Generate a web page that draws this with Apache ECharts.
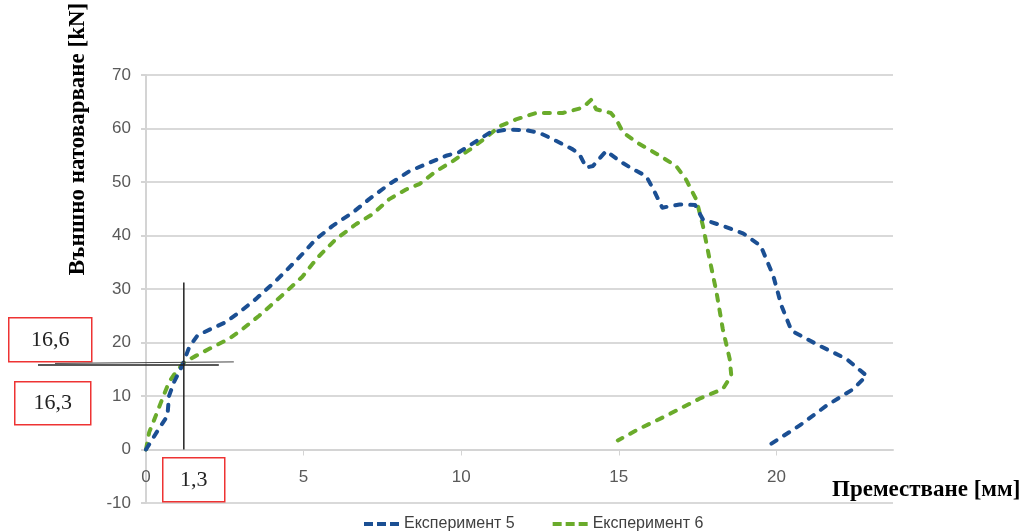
<!DOCTYPE html>
<html>
<head>
<meta charset="utf-8">
<script src="https://cdn.jsdelivr.net/npm/echarts@6/dist/echarts.min.js"></script>
<style>
html,body{margin:0;padding:0;background:#fff;}
#chart{width:1033px;height:532px;}
</style>
</head>
<body>
<div id="chart"></div>
<script>
// ---- data ----
const seriesNames = ['Експеримент 5', 'Експеримент 6'];
const exp5X = [0,0.41,0.68,0.73,0.89,1.15,1.37,1.63,2.05,2.53,2.95,3.48,4.12,4.86,5.39,5.92,6.56,7.08,7.72,8.35,8.99,9.52,9.94,10.47,10.9,11.43,12.06,12.48,12.91,13.54,13.75,13.97,14.18,14.6,15.03,15.45,15.87,16.1,16.38,16.93,17.42,17.67,18.3,18.94,19.5,19.9,20.16,20.48,21.27,22.23,22.86,22.44,21.59,20.74,19.74];
const exp5Y = [0,3.9,6.3,10,12.6,15.7,19.1,21.3,22.5,23.8,25.6,28.1,31.5,35.9,39.3,41.8,44.3,46.8,49.6,52,53.6,54.9,55.6,57.6,59.2,59.8,59.7,59.2,58,56.1,55.2,52.7,53,55.8,53.9,52.4,51.1,48.6,45.2,45.8,45.7,43.0,41.8,40.4,38.1,32.5,26.9,22.2,19.7,16.9,13.8,11.3,8.2,4.5,0.7];
const exp6X = [0,0.1,0.31,0.52,0.73,0.94,1.21,1.58,2.1,2.64,3.06,3.59,4.01,4.43,4.96,5.45,6.02,6.66,7.19,7.72,8.25,8.67,9.2,9.73,10.26,10.79,11.21,11.74,12.38,13.22,13.86,14.13,14.28,14.75,14.92,15.13,15.6,16.19,16.82,17.14,17.46,17.67,17.88,18.1,18.3,18.52,18.57,18.3,17.56,16.5,15.66,14.97];
const exp6Y = [0,3.2,6.3,9.5,12.6,14.4,16.3,17.5,19.1,20.7,22.5,25,27.2,29.4,32.3,35.9,39.3,42.1,44,46.8,48.6,49.6,52,53.9,56,58.3,60.4,61.7,62.9,62.9,63.9,65.4,63.6,62.9,61.7,59.3,57.3,55.3,53,50.4,46.7,41.8,35.6,29.4,22.5,16.9,13.8,11.3,9.5,6.3,3.9,1.7];
const xTicks = [0,5,10,15,20];
const yTicks = [-10,0,10,20,30,40,50,60,70];
const yTitle = 'Външно натоварване [kN]';
const xTitle = 'Преместване [мм]';
// annotation (crosshair) in data units, and its labels
const crossX = 1.2, crossY = 16.0, crossTop = 31.2;
const crossLabels = ['16,6', '16,3', '1,3'];

const pairs = (xs, ys) => xs.map((x, i) => [x, ys[i]]);
const colors = ['#1b4f93', '#6aab2b'];
const dashIcon = 'path://M0,0h9v4H0z M13,0h9v4h-9z M26,0h9v4h-9z';

const chart = echarts.init(document.getElementById('chart'));
const option = {
  animation: false,
  grid: {left: 146, right: 140, top: 75, bottom: 29, containLabel: false, outerBoundsMode: 'none'},
  xAxis: {
    type: 'value', min: 0, max: 23.7, interval: 5,
    axisLine: {show: true, onZero: false, lineStyle: {color: '#d4d4d4', width: 2}},
    axisTick: {show: true, length: 6, inside: false, customValues: xTicks, lineStyle: {color: '#d4d4d4'}},
    axisLabel: {customValues: xTicks, margin: 19, fontSize: 17, color: '#595959', fontFamily: 'Liberation Sans'},
    splitLine: {show: false}
  },
  yAxis: {
    type: 'value', min: yTicks[0], max: yTicks[yTicks.length - 1], interval: 10,
    axisLine: {show: true, onZero: false, lineStyle: {color: '#d4d4d4', width: 2}},
    axisTick: {show: true, length: 5, lineStyle: {color: '#d4d4d4', width: 2}},
    axisLabel: {margin: 15, fontSize: 17, color: '#595959', fontFamily: 'Liberation Sans'},
    splitLine: {show: true, lineStyle: {color: '#d9d9d9', width: 2}}
  },
  legend: {
    left: 359, top: 511, itemWidth: 35, itemHeight: 4, itemGap: 38,
    textStyle: {fontSize: 16, color: '#404040', fontFamily: 'Liberation Sans'},
    data: seriesNames.map(n => ({name: n, icon: dashIcon}))
  },
  series: [
    {name: seriesNames[0], type: 'line', data: pairs(exp5X, exp5Y), symbol: 'none', showSymbol: false, color: colors[0],
     lineStyle: {width: 4, type: [6, 9], cap: 'round', join: 'round', color: colors[0]}, z: 3},
    {name: seriesNames[1], type: 'line', data: pairs(exp6X, exp6Y), symbol: 'none', showSymbol: false, color: colors[1],
     lineStyle: {width: 4, type: [6, 9], cap: 'round', join: 'round', color: colors[1]}, z: 2}
  ]
};
chart.setOption(option);

// put the x axis (line, ticks, labels) at y = 0
const zeroPx = chart.convertToPixel({gridIndex: 0}, [0, 0]);
const bottomPx = chart.convertToPixel({gridIndex: 0}, [0, yTicks[0]]);
chart.setOption({xAxis: {offset: -(bottomPx[1] - zeroPx[1])}});

const p = chart.convertToPixel({gridIndex: 0}, [crossX, crossY]);
const pTop = chart.convertToPixel({gridIndex: 0}, [crossX, crossTop]);
const pZero = chart.convertToPixel({gridIndex: 0}, [crossX, 0]);
const lineStyle = {stroke: '#222', lineWidth: 1.5};
const box = (x, y, w, h, text) => ({
  type: 'group', left: x, top: y, z: 20,
  children: [
    {type: 'rect', shape: {x: 0, y: 0, width: w, height: h}, style: {fill: '#fff', stroke: '#ee3333', lineWidth: 1.5}},
    {type: 'text', x: w / 2, y: h / 2, style: {text: text, fill: '#222', font: '22px "Liberation Serif"', align: 'center', verticalAlign: 'middle'}}
  ]
});
chart.setOption({
  graphic: [
    {type: 'text', x: 78, y: 139, rotation: Math.PI / 2, z: 10,
     style: {text: yTitle, fill: '#000', font: 'bold 23px "Liberation Serif"', align: 'center', verticalAlign: 'middle'}},
    {type: 'text', x: 832, y: 490, z: 10,
     style: {text: xTitle, fill: '#000', font: 'bold 23px "Liberation Serif"', align: 'left', verticalAlign: 'middle'}},
    {type: 'line', z: 15, shape: {x1: p[0], y1: pTop[1], x2: p[0], y2: pZero[1]}, style: lineStyle},
    {type: 'line', z: 15, shape: {x1: 38, y1: p[1] + 1, x2: p[0] + 35, y2: p[1] + 1}, style: lineStyle},
    {type: 'line', z: 15, shape: {x1: 55, y1: p[1] - 0.5, x2: p[0] + 50, y2: p[1] - 2}, style: {stroke: '#444', lineWidth: 1}},
    box(8, 317, 83, 44, crossLabels[0]),
    box(14, 381, 76, 43, crossLabels[1]),
    box(162, 457, 62, 44, crossLabels[2])
  ]
});
</script>
</body>
</html>
